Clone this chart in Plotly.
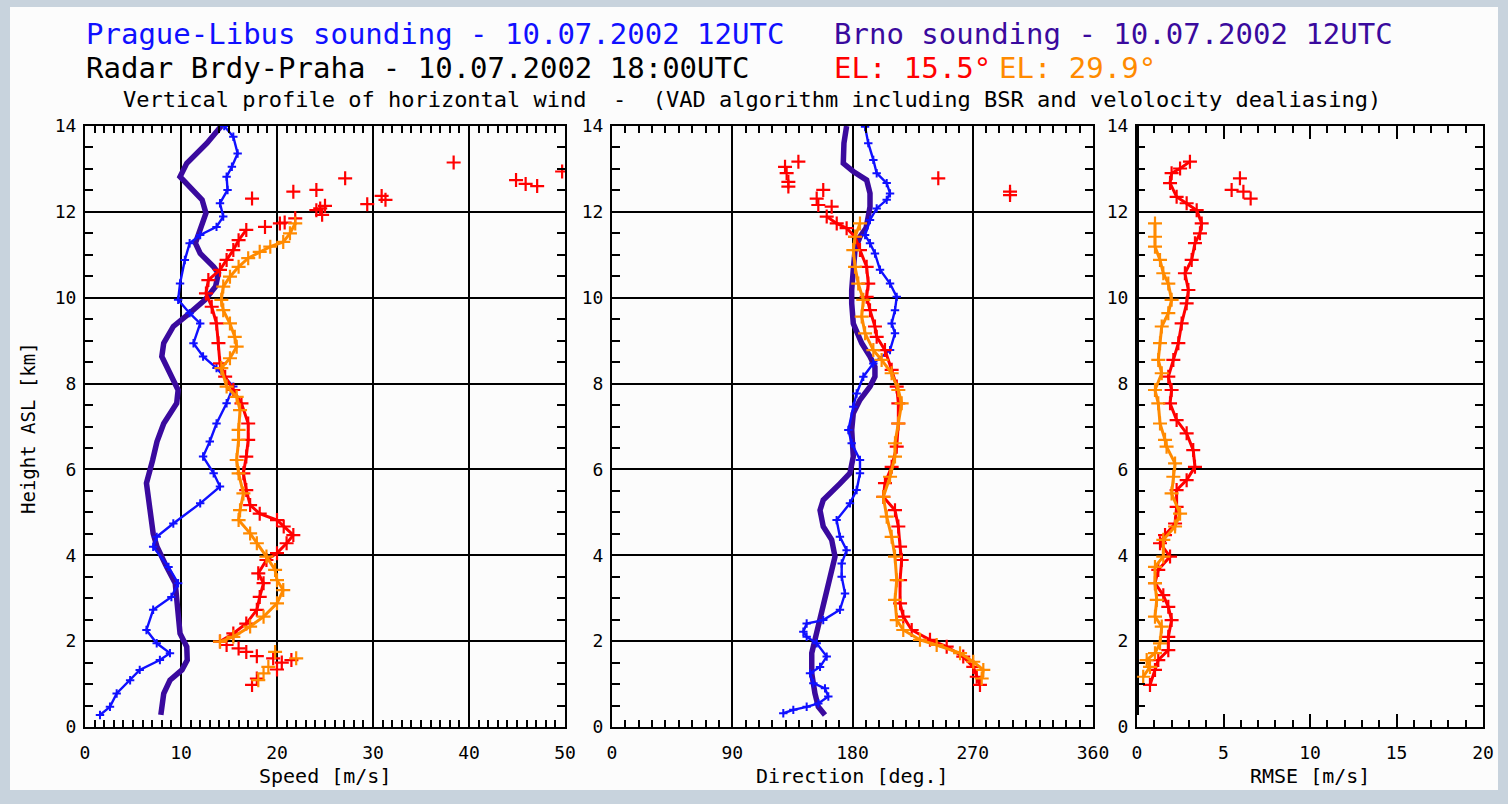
import plotly.graph_objects as go

# ---------------- data ----------------
# Brno sounding (12 UTC)
brno_spd_h = [0.28, 0.78, 1.09, 1.33, 1.56, 1.87, 2.18, 2.8, 3.35, 3.73, 4.2, 4.51, 5.13, 5.68, 6.22, 6.65,
              7.07, 7.54, 7.85, 8.24, 8.63, 8.94, 9.33, 9.64, 9.95, 10.26, 10.57, 10.72, 11.03, 11.27, 11.58,
              11.97, 12.28, 12.59, 12.82, 13.13, 13.6, 14.0]
brno_spd = [7.9, 8.2, 8.85, 10.1, 10.65, 10.6, 9.9, 9.7, 9.4, 8.5, 7.5, 7.1, 6.7, 6.4, 7.05, 7.5,
            8.2, 9.55, 9.7, 8.85, 8.0, 8.2, 9.2, 10.9, 12.5, 13.6, 13.9, 13.4, 12.0, 11.5, 12.0,
            12.6, 12.2, 10.9, 9.9, 10.6, 12.7, 14.2]
brno_dir_h = [0.28, 0.47, 0.78, 1.25, 1.72, 2.18, 2.65, 3.19, 3.58, 3.97, 4.36, 4.67, 5.05, 5.29, 5.67, 5.91,
              6.3, 6.92, 7.31, 7.62, 7.93, 8.16, 8.39, 8.63, 8.94, 9.4, 9.87, 10.18, 10.65, 11.11, 11.42,
              11.62, 11.89, 12.12, 12.43, 12.74, 12.94, 13.13, 13.6, 14.0]
brno_dir = [159.4, 154.4, 151.9, 149.5, 149.5, 153.2, 157.0, 160.7, 164.4, 166.9, 164.4, 158.1, 155.7, 158.1,
            170.6, 178.1, 180.6, 179.4, 180.6, 185.6, 193.1, 196.8, 196.8, 193.1, 186.9, 180.6, 179.4, 179.4,
            180.6, 181.9, 185.6, 190.1, 191.8, 193.1, 193.1, 190.6, 180.6, 173.1, 173.6, 175.6]

# Prague-Libus sounding (12 UTC)
prg_spd_h = [0.28, 0.47, 0.78, 1.09, 1.33, 1.56, 1.72, 1.95, 2.26, 2.73, 3.03, 3.35, 3.73, 4.2, 4.43, 4.74,
             5.21, 5.6, 5.91, 6.3, 6.65, 7.07, 7.54, 7.93, 8.36, 8.63, 8.94, 9.4, 9.64, 9.95, 10.33, 10.88,
             11.27, 11.46, 11.65, 11.89, 12.2, 12.51, 12.82, 13.05, 13.36, 13.75, 14.0]
prg_spd = [1.56, 2.6, 3.3, 4.7, 5.7, 7.8, 8.85, 7.47, 6.4, 7.1, 9.0, 9.7, 8.7, 7.1, 7.47, 9.2,
           12.0, 14.06, 13.4, 12.3, 13.0, 13.7, 14.75, 15.45, 13.7, 12.3, 11.3, 12.0, 10.9, 9.7, 9.9, 10.4,
           10.9, 12.0, 13.7, 14.4, 14.06, 14.85, 14.75, 15.3, 15.9, 15.45, 14.5]
prg_dir_h = [0.32, 0.4, 0.47, 0.55, 0.71, 0.9, 1.02, 1.25, 1.4, 1.64, 1.95, 2.1, 2.22, 2.41, 2.49, 2.73,
             3.11, 3.5, 3.81, 4.12, 4.43, 4.82, 5.21, 5.52, 5.91, 6.22, 6.61, 6.92, 7.46, 7.77, 8.16, 8.47,
             8.78, 9.17, 9.4, 9.71, 10.02, 10.33, 10.65, 11.03, 11.27, 11.46, 11.81, 12.08, 12.28, 12.43,
             12.67, 12.9, 13.21, 13.6, 13.98]
prg_dir = [128.2, 135.7, 145.7, 154.4, 161.9, 159.4, 150.7, 148.2, 155.7, 160.7, 153.2, 145.7, 143.2, 145.7,
           158.1, 170.6, 174.4, 171.9, 171.9, 175.6, 170.6, 168.1, 178.1, 183.1, 185.6, 185.6, 179.4, 176.9,
           180.6, 183.1, 188.1, 195.6, 208.1, 211.8, 209.3, 211.8, 213.1, 208.1, 200.6, 196.8, 193.1, 189.4,
           193.1, 198.1, 205.6, 208.1, 205.6, 198.1, 195.6, 191.8, 189.4]

# Radar Brdy-Praha, elevation 15.5 deg (continuous profile + isolated estimates)
el15_spd_h = [1.99, 2.18, 2.41, 2.73, 3.03, 3.35, 3.58, 3.89, 4.05, 4.28, 4.47, 4.67, 4.82, 4.97, 5.17, 5.52,
              5.91, 6.3, 6.69, 7.07, 7.54, 7.85, 8.16, 8.47, 8.94, 9.4, 9.79, 10.1, 10.41, 10.65, 10.88,
              11.11, 11.34, 11.58]
el15_spd = [14.06, 15.45, 16.8, 17.9, 18.2, 18.6, 18.05, 18.9, 20.0, 21.0, 21.7, 20.7, 20.0, 18.2, 17.2, 16.8,
            16.5, 16.8, 17.0, 17.0, 16.3, 15.45, 14.6, 14.06, 13.9, 13.7, 13.2, 12.6, 12.85, 14.06, 14.75,
            15.45, 16.0, 16.8]
el15_spd_iso_h = [0.98, 1.13, 1.34, 1.5, 1.56, 1.6, 1.65, 1.75, 1.83, 1.91,
                  11.65, 11.73, 11.75, 11.85, 11.93, 12.04, 12.08, 12.14, 12.18, 12.28, 12.31, 12.37,
                  12.47, 12.51, 12.6, 12.65, 12.74, 12.78, 12.94, 13.15]
el15_spd_iso = [17.4, 17.9, 20.0, 20.5, 21.5, 19.6, 17.9, 16.8, 16.0, 14.75,
                18.75, 20.3, 20.8, 21.9, 24.7, 24.1, 24.5, 25.0, 29.4, 31.3, 17.4, 30.9,
                21.7, 24.1, 47.1, 45.9, 44.9, 27.1, 49.7, 38.4]
el15_dir_h = [0.98, 1.17, 1.4, 1.64, 1.87, 2.03, 2.26, 2.57, 2.88, 3.42, 3.89, 4.2, 4.67, 5.05, 5.36, 5.68,
              6.06, 6.53, 7.07, 7.54, 7.93, 8.32, 8.78, 9.09, 9.33, 9.71, 10.02, 10.33, 10.72, 11.11, 11.42,
              11.62, 11.73, 11.89]
el15_dir = [275.4, 273.0, 270.4, 262.9, 250.5, 238.0, 224.3, 218.0, 215.6, 215.6, 216.8, 215.6, 214.3, 211.8,
            203.1, 204.3, 209.3, 213.1, 214.3, 214.3, 213.1, 209.3, 204.3, 198.1, 196.8, 193.1, 190.6, 191.8,
            190.6, 185.6, 181.9, 175.6, 168.2, 160.7]
el15_dir_iso_h = [12.12, 12.16, 12.31, 12.51, 12.59, 12.7, 12.9, 13.05, 13.17, 12.78, 12.39, 12.47]
el15_dir_iso = [164.4, 154.4, 153.2, 158.1, 132.0, 132.0, 130.7, 129.5, 139.5, 244.2, 297.9, 297.9]
el15_rmse_h = [0.98, 1.33, 1.56, 1.79, 2.1, 2.49, 2.8, 3.07, 3.35, 3.66, 3.97, 4.28, 4.47, 4.74, 5.13, 5.52,
               5.75, 6.06, 6.45, 6.84, 7.15, 7.54, 7.85, 8.16, 8.55, 8.94, 9.4, 9.87, 10.18, 10.57, 10.88,
               11.27, 11.5, 11.73, 12.04, 12.2, 12.35, 12.67, 12.9, 13.01, 13.17]
el15_rmse = [0.75, 1.04, 1.23, 1.81, 1.81, 2.0, 1.81, 1.52, 1.04, 1.23, 1.91, 1.33, 1.62, 2.2, 2.29, 2.29,
             2.87, 3.35, 3.25, 2.87, 2.29, 1.91, 2.0, 1.81, 2.1, 2.39, 2.58, 2.87, 2.97, 2.77, 3.16,
             3.35, 3.64, 3.74, 3.45, 2.87, 2.29, 1.91, 2.0, 2.49, 3.06]
el15_rmse_iso_h = [12.31, 12.47, 12.51, 12.78]
el15_rmse_iso = [6.57, 6.15, 5.47, 5.95]

# Radar Brdy-Praha, elevation 29.9 deg
el29_spd_h = [1.99, 2.1, 2.34, 2.57, 2.88, 3.19, 3.42, 3.66, 3.97, 4.28, 4.51, 4.82, 5.05, 5.44, 5.91, 6.22,
              6.69, 6.92, 7.38, 7.69, 7.93, 8.36, 8.59, 8.86, 9.09, 9.4, 9.71, 9.95, 10.26, 10.49, 10.72,
              10.92, 11.07, 11.19, 11.3, 11.5, 11.73]
el29_spd = [14.06, 15.45, 17.2, 18.6, 20.0, 20.65, 20.0, 19.8, 18.9, 17.9, 17.2, 16.0, 16.15, 16.5, 16.0, 15.8,
            16.0, 16.0, 16.15, 15.8, 14.75, 14.2, 15.1, 15.8, 15.6, 15.1, 14.4, 14.2, 14.4, 15.1, 16.0,
            17.0, 18.2, 19.3, 20.65, 21.35, 21.9]
el29_spd_iso_h = [1.09, 1.25, 1.4, 1.6, 1.75]
el29_spd_iso = [18.05, 18.6, 19.1, 22.0, 19.8]
el29_dir_h = [1.13, 1.33, 1.52, 1.72, 1.91, 2.03, 2.26, 2.49, 2.96, 3.42, 3.97, 4.43, 4.9, 5.36, 5.83, 6.3,
              6.61, 7.07, 7.54, 7.85, 8.24, 8.55, 8.78, 9.17, 9.56, 9.95, 10.33, 10.72, 11.11, 11.42, 11.73]
el29_dir = [276.7, 277.9, 270.4, 260.5, 243.0, 230.5, 218.0, 213.1, 211.8, 213.1, 211.8, 209.3, 205.6, 203.1,
            208.1, 211.8, 211.8, 214.3, 216.8, 214.3, 209.3, 201.8, 195.6, 189.4, 186.9, 188.1, 184.3, 181.9,
            180.6, 181.9, 185.6]
el29_rmse_h = [1.17, 1.4, 1.56, 1.72, 1.95, 2.34, 2.57, 2.96, 3.35, 3.73, 3.97, 4.36, 4.67, 4.97, 5.44, 5.83,
               6.14, 6.53, 6.69, 7.07, 7.54, 7.85, 8.24, 8.55, 8.94, 9.33, 9.64, 9.95, 10.33, 10.57, 10.88,
               11.19, 11.42, 11.73]
el29_rmse = [0.36, 0.75, 0.56, 1.04, 1.33, 1.43, 1.04, 1.14, 1.04, 1.04, 1.52, 1.52, 2.2, 2.49, 2.0, 2.1,
             2.2, 1.71, 1.62, 1.33, 1.23, 1.04, 1.43, 1.23, 1.33, 1.43, 1.81, 2.0, 1.81, 1.52, 1.33,
             1.04, 1.04, 1.04]

# soundings carry no fit error: zero RMSE over the sounding column
sounding_rmse_h = [0.28, 14.0]
sounding_rmse = [0.0, 0.0]

# axis ticks
speed_ticks = [0, 10, 20, 30, 40, 50]
dir_ticks = [0, 90, 180, 270, 360]
rmse_ticks = [0, 5, 10, 15, 20]
height_ticks = [0, 2, 4, 6, 8, 10, 12, 14]

# ---------------- styling ----------------
W, H = 1508, 804
FONT = "DejaVu Sans Mono"
C_PRG = "#1010ff"
C_BRNO = "#3a0a9e"
C_EL15 = "#ff0000"
C_EL29 = "#ff8a00"


def px(x):
    return x / W


def py(y):
    return 1 - y / H


fig = go.Figure()


def radar(xs, hs, color, axis, iso=False):
    fig.add_trace(go.Scatter(
        x=xs, y=hs, xaxis="x" + axis, yaxis="y" + axis,
        mode="markers" if iso else "lines+markers",
        line=dict(color=color, width=3),
        marker=dict(symbol="cross-thin", size=10, line=dict(color=color, width=2.2)),
        showlegend=False, hoverinfo="skip"))


def sounding(xs, hs, color, axis, thick):
    if thick:
        fig.add_trace(go.Scatter(x=xs, y=hs, xaxis="x" + axis, yaxis="y" + axis, mode="lines",
                                 line=dict(color=color, width=5.5), showlegend=False, hoverinfo="skip"))
    else:
        fig.add_trace(go.Scatter(x=xs, y=hs, xaxis="x" + axis, yaxis="y" + axis, mode="lines+markers",
                                 line=dict(color=color, width=2.4),
                                 marker=dict(symbol="cross-thin", size=6, line=dict(color=color, width=2)),
                                 showlegend=False, hoverinfo="skip"))


# speed panel
sounding(brno_spd, brno_spd_h, C_BRNO, "", True)
sounding(prg_spd, prg_spd_h, C_PRG, "", False)
radar(el15_spd, el15_spd_h, C_EL15, "")
radar(el15_spd_iso, el15_spd_iso_h, C_EL15, "", iso=True)
radar(el29_spd, el29_spd_h, C_EL29, "")
radar(el29_spd_iso, el29_spd_iso_h, C_EL29, "", iso=True)

# direction panel
sounding(brno_dir, brno_dir_h, C_BRNO, "2", True)
sounding(prg_dir, prg_dir_h, C_PRG, "2", False)
radar(el15_dir, el15_dir_h, C_EL15, "2")
radar(el15_dir_iso, el15_dir_iso_h, C_EL15, "2", iso=True)
radar(el29_dir, el29_dir_h, C_EL29, "2")

# RMSE panel
fig.add_trace(go.Scatter(x=sounding_rmse, y=sounding_rmse_h, xaxis="x3", yaxis="y3", mode="lines",
                         line=dict(color="black", width=4), showlegend=False, hoverinfo="skip"))
radar(el15_rmse, el15_rmse_h, C_EL15, "3")
radar(el15_rmse_iso, el15_rmse_iso_h, C_EL15, "3", iso=True)
radar(el29_rmse, el29_rmse_h, C_EL29, "3")

tickfont = dict(family=FONT, size=18, color="black")


def xcfg(left, right, ticks, minor, grid):
    return dict(domain=[px(left), px(right)], range=[ticks[0], ticks[-1]],
                tickvals=ticks, ticktext=[str(t) for t in ticks],
                showgrid=grid, gridcolor="black", gridwidth=2,
                showline=True, linecolor="black", linewidth=2, mirror="allticks",
                ticks="inside", ticklen=8 if grid else 13, tickwidth=2, tickcolor="black",
                minor=dict(dtick=minor, tick0=0, ticks="inside", ticklen=7, tickwidth=1.5,
                           tickcolor="black", showgrid=False),
                zeroline=False, tickfont=tickfont, ticklabelstandoff=8, automargin=False,
                fixedrange=True)


def ycfg(anchor):
    return dict(domain=[py(727), py(126)], range=[0, 14], anchor=anchor,
                tickvals=height_ticks, ticktext=[str(t) for t in height_ticks],
                showgrid=True, gridcolor="black", gridwidth=2,
                showline=True, linecolor="black", linewidth=2, mirror="allticks",
                ticks="inside", ticklen=8, tickwidth=1.5, tickcolor="black",
                minor=dict(dtick=0.5, tick0=0, ticks="inside", ticklen=8, tickwidth=1.5,
                           tickcolor="black", showgrid=False),
                zeroline=False, tickfont=tickfont, ticklabelstandoff=3, automargin=False,
                fixedrange=True)


fig.update_layout(
    width=W, height=H,
    margin=dict(l=0, r=0, t=0, b=0, autoexpand=False),
    paper_bgcolor="#c8d3dd",
    plot_bgcolor="#fcfcfc",
    xaxis=dict(xcfg(85, 565, speed_ticks, 1, True), anchor="y"),
    xaxis2=dict(xcfg(612, 1093, dir_ticks, 10, True), anchor="y2"),
    xaxis3=dict(xcfg(1137, 1483, rmse_ticks, 1, False), anchor="y3"),
    yaxis=ycfg("x"),
    yaxis2=ycfg("x2"),
    yaxis3=ycfg("x3"),
    shapes=[dict(type="rect", xref="paper", yref="paper", x0=px(10), x1=px(1498), y0=py(790), y1=py(7),
                 fillcolor="#fcfcfc", line=dict(width=0), layer="below")],
)


def label(text, x, y, color="black", size=20, xanchor="left", angle=0):
    fig.add_annotation(text=text, x=px(x), y=py(y), xref="paper", yref="paper",
                       xanchor=xanchor, yanchor="middle", showarrow=False, textangle=angle,
                       font=dict(family=FONT, size=size, color=color))


label("Prague-Libus sounding - 10.07.2002 12UTC", 84, 34, C_PRG, 29)
label("Brno sounding - 10.07.2002 12UTC", 832, 34, C_BRNO, 29)
label("Radar Brdy-Praha - 10.07.2002 18:00UTC", 84, 68, "black", 29)
label("EL: 15.5°", 832, 68, C_EL15, 29)
label("EL: 29.9°", 997, 68, C_EL29, 29)
label("Vertical profile of horizontal wind  -  (VAD algorithm including BSR and velolocity dealiasing)",
      752, 100, "black", 22, xanchor="center")
label("Speed [m/s]", 325, 776, size=20, xanchor="center")
label("Direction [deg.]", 852, 776, size=20, xanchor="center")
label("RMSE [m/s]", 1310, 776, size=20, xanchor="center")
label("Height ASL [km]", 28, 428, size=19, xanchor="center", angle=-90)

fig.write_html("out.html")
